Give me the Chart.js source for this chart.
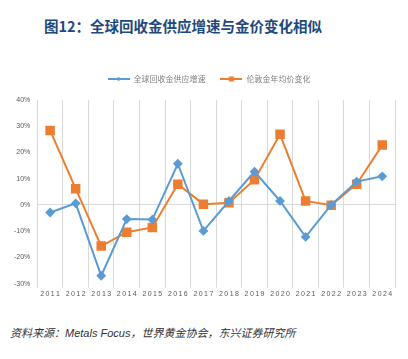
<!DOCTYPE html>
<html>
<head>
<meta charset="utf-8">
<script src="https://cdn.jsdelivr.net/npm/chart.js@4/dist/chart.umd.min.js"></script>
<style>
    body { margin: 0; background: #fff; width: 408px; height: 359px; overflow: hidden; position: relative; }
    #titulo { position: absolute; left: 44px; top: 15px; font: bold 14.5px "Noto Sans CJK SC", sans-serif; color: #1f497d; white-space: nowrap; }
    #caixa { position: absolute; left: 0; top: 55px; width: 408px; height: 252px; }
    #fonte { position: absolute; left: 10px; top: 324px; font: italic 11px "Liberation Sans", "Noto Sans CJK SC", sans-serif; color: #333; white-space: nowrap; }
</style>
</head>
<body>
<div id="titulo">图12：全球回收金供应增速与金价变化相似</div>
<div id="caixa"><canvas id="grafico"></canvas></div>
<div id="fonte">资料来源：Metals Focus，世界黄金协会，东兴证券研究所</div>
<script>
var anos = ['2011', '2012', '2013', '2014', '2015', '2016', '2017', '2018', '2019', '2020', '2021', '2022', '2023', '2024'];
var reciclagem = [-2.9, 0.6, -27.0, -5.4, -5.6, 15.7, -9.9, 1.5, 12.7, 1.5, -12.2, 0.0, 8.9, 10.9];
var precoOuro = [28.4, 6.2, -15.7, -10.4, -8.6, 7.9, 0.3, 0.8, 9.6, 26.9, 1.5, -0.1, 7.9, 22.8];
var nomesSeries = ['全球回收金供应增速', '伦敦金年均价变化'];
var ticksY = [-30, -20, -10, 0, 10, 20, 30, 40];

var azul = '#5b9bd5';
var laranja = '#ed7d31';

// icone da legenda: linha com marcador, estilo Excel
function iconeLegenda(cor, tipo) {
    var c = document.createElement('canvas');
    c.width = 22;
    c.height = 8;
    var ctx = c.getContext('2d');
    ctx.strokeStyle = cor;
    ctx.lineWidth = 2;
    ctx.beginPath();
    ctx.moveTo(0, 4);
    ctx.lineTo(22, 4);
    ctx.stroke();
    ctx.fillStyle = cor;
    if (tipo == 'quadrado') {
        ctx.fillRect(8.5, 1.5, 5, 5);
    } else {
        ctx.beginPath();
        ctx.moveTo(11, 1.8);
        ctx.lineTo(13.2, 4);
        ctx.lineTo(11, 6.2);
        ctx.lineTo(8.8, 4);
        ctx.closePath();
        ctx.fill();
    }
    return c;
}

// espaco extra entre a legenda e o grafico, e legenda um pouco para a direita
const espacoLegenda = {
    id: 'espacoLegenda',
    beforeInit(chart) {
        const fitOriginal = chart.legend.fit;
        chart.legend.fit = function () {
            fitOriginal.bind(chart.legend)();
            this.height += 7;
        };
    },
    beforeDraw(chart) {
        chart.legend.left = 15;
        chart.legend.right = 403;
    }
};

let dados = {
    labels: anos,
    datasets: [{
        label: nomesSeries[0],
        data: reciclagem,
        borderColor: azul,
        backgroundColor: azul,
        borderWidth: 2,
        pointStyle: 'rectRot',
        pointRadius: 3.5,
        pointHoverRadius: 3.5,
        tension: 0
    },
    {
        label: nomesSeries[1],
        data: precoOuro,
        borderColor: laranja,
        backgroundColor: laranja,
        borderWidth: 2,
        pointStyle: 'rect',
        pointRadius: 5.3,
        pointHoverRadius: 5.3,
        tension: 0
    }]
};

const config = {
    type: 'line',
    data: dados,
    options: {
        responsive: true,
        maintainAspectRatio: false,
        animation: false,
        layout: {
            padding: { left: 7, right: 13, top: 5, bottom: 7 }
        },
        scales: {
            x: {
                offset: true,
                grid: {
                    offset: true,
                    color: '#d9d9d9',
                    lineWidth: 1,
                    drawTicks: true,
                    tickLength: 4
                },
                border: { display: false },
                ticks: {
                    color: '#595959',
                    font: { size: 7, family: 'Liberation Sans' },
                    maxRotation: 0,
                    autoSkip: false,
                    padding: 2,
                    callback: function (valor, indice) {
                        return anos[indice].split('').join('\u2009');
                    }
                }
            },
            y: {
                min: -30,
                max: 40,
                afterBuildTicks: function (eixo) {
                    eixo.ticks = ticksY.map(v => ({ value: v }));
                },
                grid: {
                    drawTicks: false,
                    color: function (ctx) {
                        return ctx.tick && ctx.tick.value === 0 ? '#d9d9d9' : 'rgba(0,0,0,0)';
                    }
                },
                border: { display: false },
                ticks: {
                    color: '#595959',
                    font: { size: 7, family: 'Liberation Sans' },
                    padding: 7,
                    callback: function (valor) {
                        return valor + '%';
                    }
                }
            }
        },
        plugins: {
            legend: {
                display: true,
                position: 'top',
                labels: {
                    color: '#7f7f7f',
                    font: { size: 8, family: 'Noto Sans CJK SC' },
                    usePointStyle: true,
                    pointStyleWidth: 22,
                    boxHeight: 8,
                    padding: 15,
                    generateLabels: function (grafico) {
                        return [
                            { text: nomesSeries[0], pointStyle: iconeLegenda(azul, 'losango'), fontColor: '#7f7f7f', lineWidth: 0, strokeStyle: 'rgba(0,0,0,0)', fillStyle: azul, datasetIndex: 0 },
                            { text: nomesSeries[1], pointStyle: iconeLegenda(laranja, 'quadrado'), fontColor: '#7f7f7f', lineWidth: 0, strokeStyle: 'rgba(0,0,0,0)', fillStyle: laranja, datasetIndex: 1 }
                        ];
                    }
                }
            },
            tooltip: { enabled: false }
        }
    },
    plugins: [espacoLegenda]
};

let grafico = new Chart(document.getElementById('grafico'), config);
</script>
</body>
</html>
